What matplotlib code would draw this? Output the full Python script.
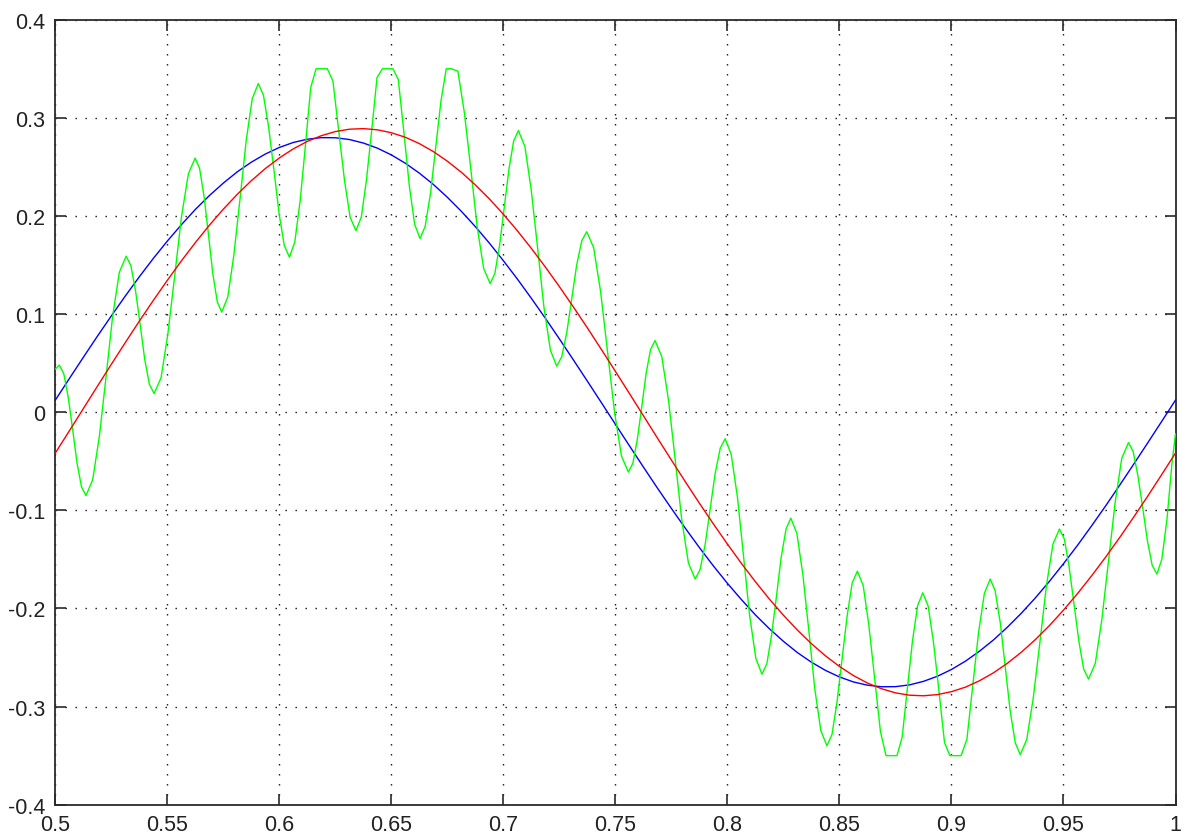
import matplotlib
matplotlib.use("Agg")
import matplotlib.pyplot as plt

# ---- data ----
x_curve = [0.50000, 0.50625, 0.51250, 0.51875, 0.52500, 0.53125, 0.53750, 0.54375, 0.55000, 0.55625,
           0.56250, 0.56875, 0.57500, 0.58125, 0.58750, 0.59375, 0.60000, 0.60625, 0.61250, 0.61875,
           0.62500, 0.63125, 0.63750, 0.64375, 0.65000, 0.65625, 0.66250, 0.66875, 0.67500, 0.68125,
           0.68750, 0.69375, 0.70000, 0.70625, 0.71250, 0.71875, 0.72500, 0.73125, 0.73750, 0.74375,
           0.75000, 0.75625, 0.76250, 0.76875, 0.77500, 0.78125, 0.78750, 0.79375, 0.80000, 0.80625,
           0.81250, 0.81875, 0.82500, 0.83125, 0.83750, 0.84375, 0.85000, 0.85625, 0.86250, 0.86875,
           0.87500, 0.88125, 0.88750, 0.89375, 0.90000, 0.90625, 0.91250, 0.91875, 0.92500, 0.93125,
           0.93750, 0.94375, 0.95000, 0.95625, 0.96250, 0.96875, 0.97500, 0.98125, 0.98750, 0.99375,
           1.00000]

blue_y = [0.0123, 0.0342, 0.0559, 0.0773, 0.0981, 0.1184, 0.1380, 0.1567, 0.1744, 0.1910,
          0.2066, 0.2207, 0.2335, 0.2450, 0.2548, 0.2631, 0.2698, 0.2749, 0.2782, 0.2798,
          0.2797, 0.2779, 0.2743, 0.2691, 0.2622, 0.2537, 0.2436, 0.2321, 0.2190, 0.2047,
          0.1891, 0.1723, 0.1544, 0.1357, 0.1160, 0.0957, 0.0747, 0.0533, 0.0316, 0.0097,
          -0.0123, -0.0342, -0.0559, -0.0773, -0.0981, -0.1184, -0.1380, -0.1567, -0.1744, -0.1910,
          -0.2066, -0.2207, -0.2335, -0.2450, -0.2548, -0.2631, -0.2698, -0.2749, -0.2782, -0.2798,
          -0.2797, -0.2779, -0.2743, -0.2691, -0.2622, -0.2537, -0.2436, -0.2321, -0.2190, -0.2047,
          -0.1891, -0.1723, -0.1544, -0.1357, -0.1160, -0.0957, -0.0747, -0.0533, -0.0316, -0.0097,
          0.0123]

red_y = [-0.0416, -0.0191, 0.0036, 0.0263, 0.0488, 0.0710, 0.0928, 0.1139, 0.1344, 0.1541,
         0.1728, 0.1905, 0.2069, 0.2221, 0.2359, 0.2483, 0.2591, 0.2684, 0.2760, 0.2818,
         0.2860, 0.2884, 0.2890, 0.2878, 0.2848, 0.2802, 0.2737, 0.2656, 0.2558, 0.2445,
         0.2316, 0.2174, 0.2017, 0.1849, 0.1669, 0.1479, 0.1280, 0.1072, 0.0859, 0.0639,
         0.0416, 0.0191, -0.0036, -0.0263, -0.0488, -0.0710, -0.0928, -0.1139, -0.1344, -0.1541,
         -0.1728, -0.1905, -0.2069, -0.2221, -0.2359, -0.2483, -0.2591, -0.2684, -0.2760, -0.2818,
         -0.2860, -0.2884, -0.2890, -0.2878, -0.2848, -0.2802, -0.2737, -0.2656, -0.2558, -0.2445,
         -0.2316, -0.2174, -0.2017, -0.1849, -0.1669, -0.1479, -0.1280, -0.1072, -0.0859, -0.0639,
         -0.0416]

green_x = [0.5000,
           0.5018, 0.5038, 0.5058, 0.5078, 0.5097, 0.5117,
           0.5137, 0.5167, 0.5197, 0.5227, 0.5256, 0.5286,
           0.5316, 0.5337, 0.5358, 0.5379, 0.5399, 0.5420,
           0.5441, 0.5472, 0.5502, 0.5533, 0.5563, 0.5594,
           0.5624, 0.5644, 0.5664, 0.5684, 0.5703, 0.5723,
           0.5743, 0.5770, 0.5797, 0.5825, 0.5852, 0.5879,
           0.5906, 0.5929, 0.5952, 0.5976, 0.5999, 0.6022,
           0.6045, 0.6069, 0.6093, 0.6117, 0.6140, 0.6164,
           0.6188, 0.6214, 0.6239, 0.6265, 0.6291, 0.6316,
           0.6342, 0.6366, 0.6389, 0.6413, 0.6436, 0.6460,
           0.6483, 0.6507, 0.6531, 0.6556, 0.6580, 0.6604,
           0.6628, 0.6651, 0.6675, 0.6698, 0.6721, 0.6745,
           0.6768, 0.6797, 0.6826, 0.6855, 0.6883, 0.6912,
           0.6941, 0.6962, 0.6983, 0.7004, 0.7025, 0.7046,
           0.7067, 0.7096, 0.7124, 0.7153, 0.7181, 0.7210,
           0.7238, 0.7260, 0.7283, 0.7305, 0.7327, 0.7350,
           0.7372, 0.7403, 0.7434, 0.7465, 0.7496, 0.7527,
           0.7558, 0.7578, 0.7598, 0.7618, 0.7637, 0.7657,
           0.7677, 0.7707, 0.7737, 0.7767, 0.7796, 0.7826,
           0.7856, 0.7878, 0.7901, 0.7923, 0.7945, 0.7968,
           0.7990, 0.8017, 0.8045, 0.8072, 0.8099, 0.8127,
           0.8154, 0.8176, 0.8197, 0.8219, 0.8240, 0.8262,
           0.8283, 0.8310, 0.8337, 0.8364, 0.8390, 0.8417,
           0.8444, 0.8467, 0.8489, 0.8512, 0.8535, 0.8557,
           0.8580, 0.8606, 0.8631, 0.8657, 0.8683, 0.8708,
           0.8734, 0.8757, 0.8780, 0.8803, 0.8826, 0.8849,
           0.8872, 0.8896, 0.8920, 0.8945, 0.8969, 0.8993,
           0.9017, 0.9043, 0.9069, 0.9095, 0.9121, 0.9147,
           0.9173, 0.9195, 0.9218, 0.9240, 0.9262, 0.9285,
           0.9307, 0.9336, 0.9365, 0.9395, 0.9424, 0.9453,
           0.9482, 0.9504, 0.9525, 0.9547, 0.9569, 0.9590,
           0.9612, 0.9642, 0.9671, 0.9701, 0.9731, 0.9760,
           0.9790, 0.9811, 0.9832, 0.9854, 0.9875, 0.9896,
           0.9917, 0.9939, 0.9962, 0.9984, 1.0000]

green_y = [0.044,
           0.048, 0.0391, 0.0148, -0.0185, -0.0518, -0.0761,
           -0.085, -0.0687, -0.024, 0.037, 0.098, 0.1427,
           0.159, 0.1496, 0.124, 0.089, 0.054, 0.0284,
           0.019, 0.0351, 0.079, 0.139, 0.199, 0.2429,
           0.259, 0.2485, 0.2198, 0.1805, 0.1412, 0.1125,
           0.102, 0.1176, 0.1602, 0.2185, 0.2768, 0.3194,
           0.335, 0.3231, 0.2908, 0.2465, 0.2022, 0.1699,
           0.158, 0.1735, 0.2157, 0.2733, 0.3309, 0.350,
           0.350, 0.350, 0.3377, 0.2868, 0.2359, 0.1986,
           0.185, 0.1989, 0.237, 0.289, 0.341, 0.350,
           0.350, 0.350, 0.339, 0.285, 0.231, 0.1915,
           0.177, 0.1895, 0.2235, 0.270, 0.3165, 0.350,
           0.350, 0.3475, 0.305, 0.247, 0.189, 0.1465,
           0.131, 0.1415, 0.170, 0.209, 0.248, 0.2765,
           0.287, 0.2709, 0.227, 0.167, 0.107, 0.0631,
           0.047, 0.0562, 0.0812, 0.1155, 0.1498, 0.1748,
           0.184, 0.1676, 0.1228, 0.0615, 0.0002, -0.0446,
           -0.061, -0.052, -0.0275, 0.006, 0.0395, 0.064,
           0.073, 0.0567, 0.0123, -0.0485, -0.1093, -0.1537,
           -0.170, -0.1604, -0.1343, -0.0985, -0.0627, -0.0366,
           -0.027, -0.0431, -0.087, -0.147, -0.207, -0.2509,
           -0.267, -0.2563, -0.2273, -0.1875, -0.1477, -0.1187,
           -0.108, -0.1235, -0.166, -0.224, -0.282, -0.3245,
           -0.340, -0.3281, -0.2955, -0.251, -0.2065, -0.1739,
           -0.162, -0.1766, -0.2165, -0.271, -0.3255, -0.350,
           -0.350, -0.350, -0.331, -0.282, -0.233, -0.1971,
           -0.184, -0.1976, -0.2349, -0.2858, -0.3367, -0.350,
           -0.350, -0.350, -0.3332, -0.2788, -0.2244, -0.1846,
           -0.170, -0.182, -0.2147, -0.2595, -0.3043, -0.337,
           -0.349, -0.3336, -0.2915, -0.234, -0.1765, -0.1344,
           -0.119, -0.1293, -0.1572, -0.1955, -0.2338, -0.2617,
           -0.272, -0.2559, -0.2118, -0.1515, -0.0912, -0.0471,
           -0.031, -0.040, -0.0645, -0.098, -0.1315, -0.156,
           -0.165, -0.1499, -0.1088, -0.0525, -0.022]

x_ticks = [0.5, 0.55, 0.6, 0.65, 0.7, 0.75, 0.8, 0.85, 0.9, 0.95, 1.0]
x_tick_labels = ["0.5", "0.55", "0.6", "0.65", "0.7", "0.75", "0.8", "0.85", "0.9", "0.95", "1"]
y_ticks = [-0.4, -0.3, -0.2, -0.1, 0.0, 0.1, 0.2, 0.3, 0.4]
y_tick_labels = ["-0.4", "-0.3", "-0.2", "-0.1", "0", "0.1", "0.2", "0.3", "0.4"]

# ---- figure ----
plt.rcParams['font.family'] = ['Liberation Sans', 'DejaVu Sans']
fig = plt.figure(figsize=(11.87, 8.37), dpi=100, facecolor='white')
ax = fig.add_axes([55.3 / 1187, 31.3 / 837, 1120.2 / 1187, 785 / 837])
ax.set_facecolor('white')

ax.plot(x_curve, blue_y, color='#0000FF', lw=1.0, zorder=3)
ax.plot(green_x, green_y, color='#00FF00', lw=1.0, zorder=3)
ax.plot(x_curve, red_y, color='#FF0000', lw=1.0, zorder=3)

ax.set_xlim(0.5, 1.0)
ax.set_ylim(-0.4, 0.4)
ax.set_xticks(x_ticks)
ax.set_xticklabels(x_tick_labels)
ax.set_yticks(y_ticks)
ax.set_yticklabels(y_tick_labels)

ax.grid(True, color='#111111', lw=1.0, linestyle=(0, (1, 6.2)), zorder=1)
ax.set_axisbelow(True)

for s in ax.spines.values():
    s.set_color('#2a2a2a')
    s.set_linewidth(1.3)

ax.tick_params(axis='both', which='major', direction='in', length=8, width=1.2,
               colors='#2a2a2a', labelcolor='#222222', labelsize=15.5,
               top=True, right=True)
ax.tick_params(axis='x', pad=6.5)
ax.tick_params(axis='y', pad=7)

fig.savefig('out.png', dpi=100, facecolor='white')
